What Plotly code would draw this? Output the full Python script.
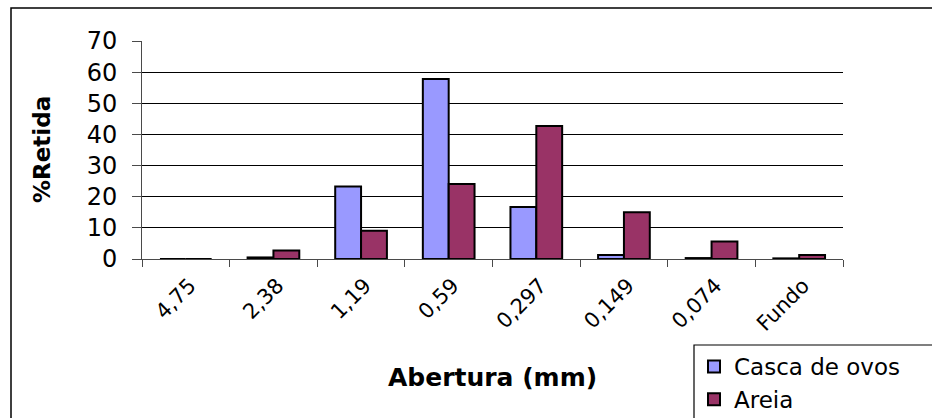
import plotly.graph_objects as go

categorias = ["4,75", "2,38", "1,19", "0,59", "0,297", "0,149", "0,074", "Fundo"]
casca_de_ovos = [0, 0.5, 23.3, 57.8, 16.7, 1.3, 0.3, 0.2]
areia = [0, 2.7, 9.1, 24.1, 42.7, 15.0, 5.6, 1.3]
y_ticks = [0, 10, 20, 30, 40, 50, 60, 70]
grid_vals = [10, 20, 30, 40, 50, 60]

FONT = "DejaVu Sans"
AXIS_COL = "#4a4a4a"

fig = go.Figure()
# empty trace so the base (grid) subplot is drawn beneath the bars
fig.add_scatter(x=[], y=[], showlegend=False, hoverinfo="skip")
fig.add_bar(x=categorias, y=casca_de_ovos, name="Casca de ovos", yaxis="y2",
            marker=dict(color="#9999FF", line=dict(color="black", width=2)))
fig.add_bar(x=categorias, y=areia, name="Areia", yaxis="y2",
            marker=dict(color="#993366", line=dict(color="black", width=2)))

W, H = 932, 418
L, R, T, B = 142, 89, 41, 159
pw, ph = W - L - R, H - T - B

def px_x(p):
    return (p - L) / pw

def px_y(p):
    return (H - B - p) / ph

fig.update_layout(
    width=W, height=H,
    margin=dict(l=L, r=R, t=T, b=B, pad=0, autoexpand=False),
    paper_bgcolor="white", plot_bgcolor="white",
    font=dict(family=FONT, color="black"),
    barmode="group", bargap=0.41, bargroupgap=0,
    showlegend=True,
    xaxis=dict(type="category", categoryorder="array", categoryarray=categorias,
               tickson="boundaries", ticks="outside", ticklen=7,
               tickcolor=AXIS_COL, showline=True, linecolor=AXIS_COL, linewidth=1,
               tickangle=-45, tickfont=dict(size=21, family=FONT, color="black"),
               ticklabelstandoff=5, ticklabelshift=4, showgrid=False, zeroline=False,
               automargin=False),
    yaxis=dict(range=[0, 70], tickmode="array", tickvals=grid_vals, showticklabels=False,
               ticks="", showgrid=True, gridcolor="black", gridwidth=1,
               zeroline=False, showline=False, automargin=False,
               minor=dict(tickmode="array", tickvals=[70], showgrid=True, gridcolor="#eeeeee", ticks="")),
    yaxis2=dict(overlaying="y", side="left", anchor="x", range=[0, 70], tickmode="array",
                tickvals=y_ticks, ticks="outside", ticklen=9, tickcolor=AXIS_COL,
                showline=True, linecolor=AXIS_COL, linewidth=1, showgrid=False, zeroline=False,
                automargin=False,
                tickfont=dict(size=24, family=FONT, color="black"), ticklabelstandoff=10),
    legend=dict(x=px_x(694), y=px_y(345), xanchor="left", yanchor="top",
                borderwidth=0, bgcolor="rgba(0,0,0,0)",
                font=dict(size=23, family=FONT, color="black"), tracegroupgap=0),
    annotations=[
        dict(text="<b>%Retida</b>", xref="paper", yref="paper", x=px_x(42), y=0.5,
             textangle=-90, showarrow=False, xanchor="center", yanchor="middle",
             font=dict(size=23, family=FONT, color="black")),
        dict(text="<b>Abertura (mm)</b>", xref="paper", yref="paper", x=0.5, y=px_y(377),
             showarrow=False, xanchor="center", yanchor="middle",
             font=dict(size=25, family=FONT, color="black")),
    ],
    shapes=[
        # outer chart border (cut off at right and bottom as in the original)
        dict(type="rect", xref="paper", yref="paper", x0=px_x(11), x1=px_x(940),
             y0=px_y(425), y1=px_y(8), line=dict(color="black", width=1.5), layer="below"),
        # legend frame
        dict(type="rect", xref="paper", yref="paper", x0=px_x(694), x1=px_x(940),
             y0=px_y(425), y1=px_y(345), line=dict(color="black", width=1.2),
             fillcolor="white", layer="below"),
    ],
)

fig.write_html("out.html", config={"displayModeBar": False},
               post_script="document.body.style.margin='0';document.body.style.overflow='hidden';")
